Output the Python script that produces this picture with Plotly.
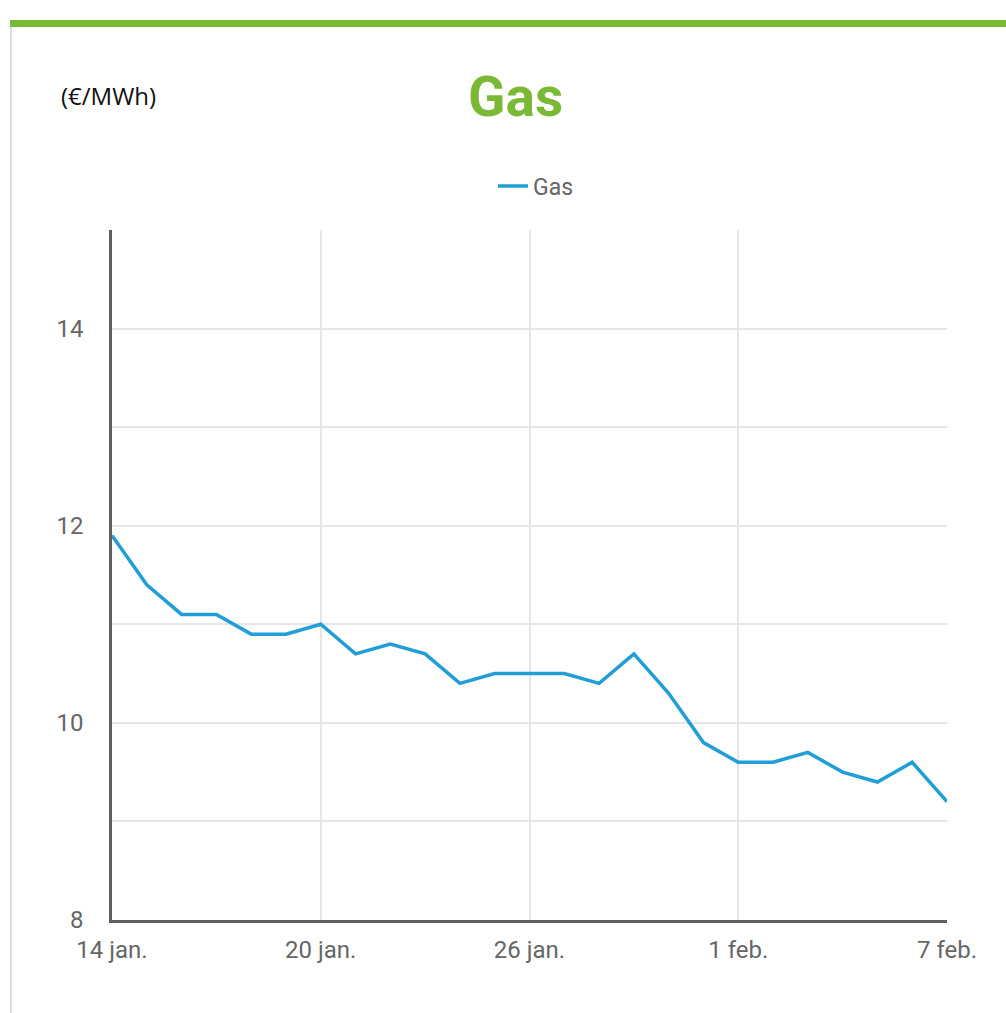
import plotly.graph_objects as go

dates = ["2020-01-14", "2020-01-15", "2020-01-16", "2020-01-17", "2020-01-18",
         "2020-01-19", "2020-01-20", "2020-01-21", "2020-01-22", "2020-01-23",
         "2020-01-24", "2020-01-25", "2020-01-26", "2020-01-27", "2020-01-28",
         "2020-01-29", "2020-01-30", "2020-01-31", "2020-02-01", "2020-02-02",
         "2020-02-03", "2020-02-04", "2020-02-05", "2020-02-06", "2020-02-07"]
gas = [11.9, 11.4, 11.1, 11.1, 10.9, 10.9, 11.0, 10.7, 10.8, 10.7,
       10.4, 10.5, 10.5, 10.5, 10.4, 10.7, 10.3, 9.8, 9.6, 9.6,
       9.7, 9.5, 9.4, 9.6, 9.2]

x_tickvals = ["2020-01-14", "2020-01-20", "2020-01-26", "2020-02-01", "2020-02-07"]
x_ticktext = ["14 jan.", "20 jan.", "26 jan.", "1 feb.", "7 feb."]
y_tickvals = [8, 9, 10, 11, 12, 13, 14, 15]
y_ticktext = ["8", "", "10", "", "12", "", "14", ""]

W, H = 1006, 1013
L, R, T, B = 112, 59, 230, 93
pw, ph = W - L - R, H - T - B

def px(x):
    return (x - L) / pw

def py(y):
    return (H - B - y) / ph

fig = go.Figure()
fig.add_trace(go.Scatter(
    x=dates, y=gas, mode="lines", name="Gas",
    line=dict(color="#219dd8", width=3.5),
))

fig.update_layout(
    width=W, height=H,
    margin=dict(l=L, r=R, t=T, b=B),
    paper_bgcolor="white", plot_bgcolor="white",
    font=dict(family="Roboto", size=24, color="#666666"),
    showlegend=True,
    legend=dict(orientation="h", x=px(493), xanchor="left", y=py(186), yanchor="middle",
                font=dict(family="Roboto", size=23, color="#666666")),
    xaxis=dict(
        type="date", range=["2020-01-14", "2020-02-07"],
        tickvals=x_tickvals, ticktext=x_ticktext,
        showgrid=True, gridcolor="#e6e6e6", gridwidth=2,
        showline=True, linecolor="#5e5e5e", linewidth=2.5,
        ticks="", ticklabelstandoff=6, zeroline=False,
        tickfont=dict(family="Roboto", size=24, color="#666666"),
    ),
    yaxis=dict(
        range=[8, 15], tickvals=y_tickvals, ticktext=y_ticktext,
        showgrid=True, gridcolor="#e6e6e6", gridwidth=2,
        showline=True, linecolor="#5e5e5e", linewidth=2.5,
        ticks="", ticklabelstandoff=21, zeroline=False,
        tickfont=dict(family="Roboto", size=24, color="#666666"),
    ),
    shapes=[
        dict(type="rect", xref="paper", yref="paper",
             x0=px(10), x1=px(1006), y0=py(27), y1=py(20),
             fillcolor="#7ab935", line=dict(width=0), layer="above"),
        dict(type="line", xref="paper", yref="paper",
             x0=px(11), x1=px(11), y0=py(1013), y1=py(27),
             line=dict(color="#dddddd", width=2), layer="above"),
    ],
    annotations=[
        dict(text="<b>Gas</b>", xref="paper", yref="paper",
             x=px(515), y=py(97), xanchor="center", yanchor="middle",
             showarrow=False, font=dict(family="Roboto", size=55, color="#7ab935")),
        dict(text="(€/MWh)", xref="paper", yref="paper",
             x=px(59), y=py(95), xanchor="left", yanchor="middle",
             showarrow=False, font=dict(family="Open Sans", size=24, color="#111111")),
    ],
)

fig.write_html("out.html", config={"displayModeBar": False},
               post_script="document.body.style.margin='0';document.body.style.overflow='hidden';")
